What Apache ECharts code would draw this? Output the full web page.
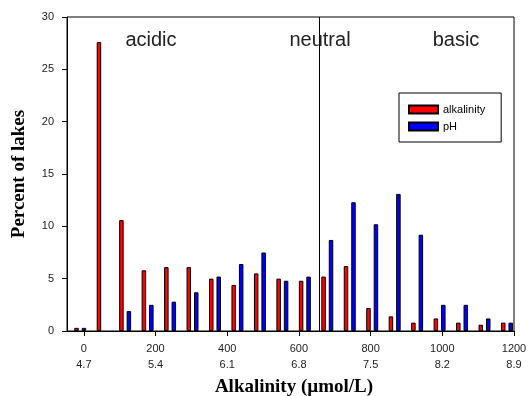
<!DOCTYPE html>
<html>
<head>
<meta charset="utf-8">
<script src="https://cdn.jsdelivr.net/npm/echarts@6/dist/echarts.min.js"></script>
<style>html,body{margin:0;padding:0;background:#fff}#c{width:528px;height:396px}</style>
</head>
<body>
<div id="c"></div>
<script>
const bins = ['b1','b2','b3','b4','b5','b6','b7','b8','b9','b10','b11','b12','b13','b14','b15','b16','b17','b18','b19','b20'];
const alkalinity = [0.3, 27.6, 10.6, 5.8, 6.1, 6.1, 5.0, 4.4, 5.5, 5.0, 4.8, 5.2, 6.2, 2.2, 1.4, 0.8, 1.2, 0.8, 0.6, 0.8];
const pH = [0.3, null, 1.9, 2.5, 2.8, 3.7, 5.2, 6.4, 7.5, 4.8, 5.2, 8.7, 12.3, 10.2, 13.1, 9.2, 2.5, 2.5, 1.2, 0.8];
const alkTicks = [0, 200, 400, 600, 800, 1000, 1200];
const pHTicks = ['4.7', '5.4', '6.1', '6.8', '7.5', '8.2', '8.9'];
const neutralAlk = 657; // pH 7
const regionLabels = ['acidic', 'neutral', 'basic'];

const chart = echarts.init(document.getElementById('c'), null, {renderer: 'canvas'});
const tickFont = {fontFamily: 'Liberation Sans, Arial, sans-serif', fontSize: 11, color: '#222'};
const titleFont = {fontFamily: 'Liberation Serif, Times New Roman, serif', fontWeight: 'bold', color: '#000'};
const regionX = [151, 320, 456];

chart.setOption({
  animation: false,
  grid: [
    {left: 67, right: 14, top: 17, bottom: 65, show: true, borderColor: '#000', borderWidth: 1, backgroundColor: 'transparent', containLabel: false, outerBoundsMode: 'none'},
    {left: 69, right: 9.8, top: 17, bottom: 65, containLabel: false, outerBoundsMode: 'none'}
  ],
  xAxis: [
    {
      type: 'value', gridIndex: 0, min: -47, max: 1200,
      name: 'Alkalinity (µmol/L)', nameLocation: 'middle', nameGap: 42,
      nameTextStyle: Object.assign({fontSize: 19, padding: [0, 0, 0, 7]}, titleFont),
      axisLine: {show: true, onZero: false, lineStyle: {color: '#000', width: 1}},
      axisTick: {show: true, customValues: alkTicks, length: 5, inside: false, lineStyle: {color: '#000'}},
      axisLabel: Object.assign({
        customValues: alkTicks, margin: 10, lineHeight: 16,
        formatter: function (v) { const i = alkTicks.indexOf(v); return v + '\n' + pHTicks[i]; }
      }, tickFont),
      splitLine: {show: false}
    },
    {type: 'category', gridIndex: 1, data: bins, show: false, boundaryGap: true}
  ],
  yAxis: [
    {
      type: 'value', gridIndex: 0, min: 0, max: 30, interval: 5,
      name: 'Percent of lakes', nameLocation: 'middle', nameGap: 38,
      nameTextStyle: Object.assign({fontSize: 19}, titleFont),
      axisLine: {show: true, onZero: false, lineStyle: {color: '#000', width: 1}},
      axisTick: {show: true, length: 5, lineStyle: {color: '#000'}},
      axisLabel: Object.assign({margin: 13}, tickFont),
      splitLine: {show: false}
    },
    {type: 'value', gridIndex: 1, min: 0, max: 30, show: false}
  ],
  legend: {
    orient: 'vertical', left: 399, top: 93,
    padding: [11, 16, 10, 9], itemGap: 6, itemWidth: 29, itemHeight: 8,
    borderColor: '#000', borderWidth: 1, backgroundColor: '#fff',
    icon: 'rect',
    textStyle: {fontFamily: 'Liberation Sans, Arial, sans-serif', fontSize: 11, color: '#000'},
    data: ['alkalinity', 'pH']
  },
  series: [
    {
      name: 'alkalinity', type: 'bar', xAxisIndex: 1, yAxisIndex: 1, data: alkalinity,
      barWidth: 4.5, barGap: '66%',
      itemStyle: {color: '#ff0000', borderColor: '#000', borderWidth: 1}
    },
    {
      name: 'pH', type: 'bar', xAxisIndex: 1, yAxisIndex: 1, data: pH,
      barWidth: 4.5, barGap: '66%',
      itemStyle: {color: '#0000ff', borderColor: '#000', borderWidth: 1}
    },
    {
      name: 'neutral line', type: 'line', xAxisIndex: 0, yAxisIndex: 0, data: [],
      markLine: {
        silent: true, symbol: 'none', label: {show: false},
        lineStyle: {color: '#000', width: 1, type: 'solid'},
        data: [{xAxis: neutralAlk}]
      }
    }
  ],
  graphic: regionLabels.map(function (t, i) {
    return {
      type: 'text', x: regionX[i], y: 40, z: 10,
      style: {text: t, fill: '#222', font: '20px Liberation Sans, Arial, sans-serif', align: 'center', verticalAlign: 'middle'}
    };
  })
});
</script>
</body>
</html>
